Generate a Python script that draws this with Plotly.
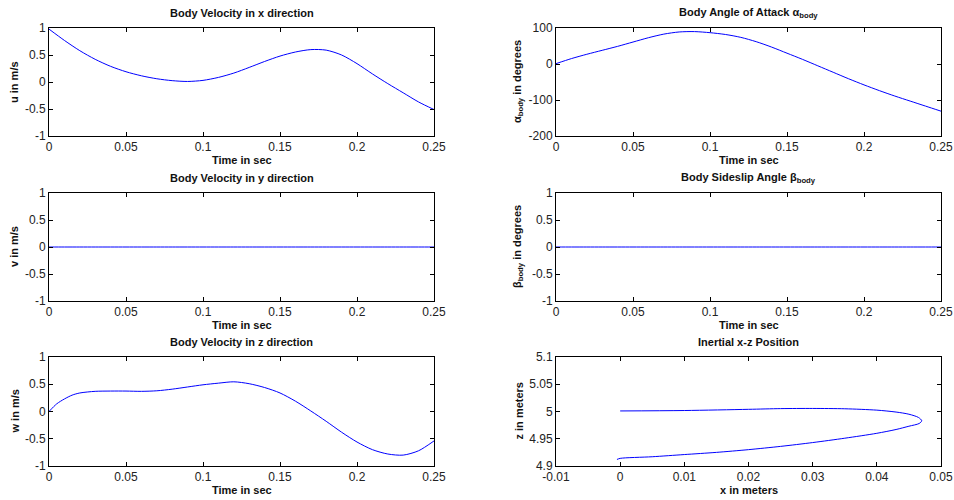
import plotly.graph_objects as go

# ---------------- data ----------------
t = [0.00, 0.01, 0.02, 0.03, 0.04, 0.05, 0.06, 0.07, 0.08, 0.09, 0.10, 0.11, 0.12,
     0.13, 0.14, 0.15, 0.16, 0.17, 0.18, 0.19, 0.20, 0.21, 0.22, 0.23, 0.24, 0.25]

u = [0.98, 0.77, 0.58, 0.42, 0.29, 0.19, 0.115, 0.06, 0.025, 0.01, 0.03, 0.085, 0.165,
     0.27, 0.38, 0.48, 0.555, 0.60, 0.59, 0.50, 0.34, 0.15, -0.03, -0.20, -0.37, -0.51]

v = [0.0] * len(t)

t_w = [0.000, 0.005, 0.010, 0.015, 0.020, 0.030, 0.040, 0.050, 0.060, 0.070, 0.080,
       0.090, 0.100, 0.110, 0.120, 0.130, 0.140, 0.150, 0.160, 0.170, 0.180, 0.190,
       0.200, 0.210, 0.220, 0.230, 0.240, 0.250]
w = [0.00, 0.14, 0.23, 0.30, 0.34, 0.37, 0.375, 0.375, 0.37, 0.38, 0.41,
     0.45, 0.49, 0.52, 0.545, 0.51, 0.44, 0.34, 0.19, 0.01, -0.18, -0.38,
     -0.56, -0.70, -0.78, -0.80, -0.72, -0.54]

alpha = [1, 15, 27, 38, 49, 61, 73, 83, 89, 90, 87, 82, 74,
         62, 47, 30, 13, -5, -23, -41, -58, -74, -89, -103, -117, -131]

beta = [0.0] * len(t)

x_pos = [0.0, 0.01, 0.02, 0.025, 0.03, 0.035, 0.04, 0.043, 0.045, 0.0465, 0.047,
         0.0466, 0.045, 0.043, 0.04, 0.035, 0.03, 0.025, 0.02, 0.015, 0.01, 0.005,
         0.0, -0.0005]
z_pos = [5.001, 5.0018, 5.004, 5.0053, 5.0056, 5.005, 5.0025, 4.999, 4.995, 4.989, 4.983,
         4.978, 4.973, 4.967, 4.960, 4.951, 4.943, 4.936, 4.930, 4.925, 4.921, 4.917,
         4.914, 4.912]

time_ticks = [0, 0.05, 0.1, 0.15, 0.2, 0.25]
time_labels = ["0", "0.05", "0.1", "0.15", "0.2", "0.25"]
vel_ticks = [-1, -0.5, 0, 0.5, 1]
vel_labels = ["-1", "-0.5", "0", "0.5", "1"]
alpha_ticks = [-200, -100, 0, 100]
alpha_labels = ["-200", "-100", "0", "100"]
xpos_ticks = [-0.01, 0, 0.01, 0.02, 0.03, 0.04, 0.05]
xpos_labels = ["-0.01", "0", "0.01", "0.02", "0.03", "0.04", "0.05"]
zpos_ticks = [4.9, 4.95, 5.0, 5.05, 5.1]
zpos_labels = ["4.9", "4.95", "5", "5.05", "5.1"]

titles = ["Body Velocity in x direction", "Body Angle of Attack α<sub>body</sub>",
          "Body Velocity in y direction", "Body Sideslip Angle β<sub>body</sub>",
          "Body Velocity in z direction", "Inertial x-z Position"]
ylabels = ["u in m/s", "α<sub>body</sub> in degrees",
           "v in m/s", "β<sub>body</sub> in degrees",
           "w in m/s", "z in meters"]
xlabels = ["Time in sec"] * 5 + ["x in meters"]

# ---------------- layout geometry ----------------
W, H = 954, 500
col_px = [(49, 434), (556, 941)]
row_px = [(28, 136), (193, 301), (357, 466)]

FONT = "Liberation Sans, Arial, Helvetica, sans-serif"
LINE = "#0000ff"

fig = go.Figure()

series = [
    (t, u), (t, alpha),
    (t, v), (t, beta),
    (t_w, w), (x_pos, z_pos),
]

for i, (xs, ys) in enumerate(series):
    n = i + 1
    fig.add_trace(go.Scatter(
        x=xs, y=ys, mode="lines",
        line=dict(color=LINE, width=1, shape="spline", smoothing=0.8),
        xaxis="x" if n == 1 else f"x{n}", yaxis="y" if n == 1 else f"y{n}",
        showlegend=False, hoverinfo="skip"))

axis_common = dict(
    showline=True, linecolor="black", linewidth=1, mirror="ticks",
    ticks="inside", ticklen=4, tickwidth=1, tickcolor="black",
    showgrid=False, zeroline=False, automargin=False,
    tickfont=dict(family=FONT, size=12, color="#222"),
)

xranges = [(0, 0.25)] * 5 + [(-0.01, 0.05)]
yranges = [(-1, 1), (-200, 100), (-1, 1), (-1, 1), (-1, 1), (4.9, 5.1)]
xt = [(time_ticks, time_labels)] * 5 + [(xpos_ticks, xpos_labels)]
yt = [(vel_ticks, vel_labels), (alpha_ticks, alpha_labels),
      (vel_ticks, vel_labels), (vel_ticks, vel_labels),
      (vel_ticks, vel_labels), (zpos_ticks, zpos_labels)]

layout = dict(
    template="none",
    width=W, height=H, margin=dict(l=0, r=0, t=0, b=0, pad=0),
    paper_bgcolor="white", plot_bgcolor="white", showlegend=False,
)

annotations = []
for i in range(6):
    r, c = divmod(i, 2)
    n = i + 1
    x0, x1 = col_px[c]
    y0, y1 = row_px[r]
    xname = "xaxis" if n == 1 else f"xaxis{n}"
    yname = "yaxis" if n == 1 else f"yaxis{n}"
    layout[xname] = dict(
        axis_common, domain=[x0 / W, x1 / W], range=list(xranges[i]),
        tickmode="array", tickvals=xt[i][0], ticktext=xt[i][1],
        ticklabelstandoff=0,
        anchor="y" if n == 1 else f"y{n}")
    layout[yname] = dict(
        axis_common, domain=[1 - y1 / H, 1 - y0 / H], range=list(yranges[i]),
        tickmode="array", tickvals=yt[i][0], ticktext=yt[i][1],
        anchor="x" if n == 1 else f"x{n}")
    cx = (x0 + x1) / 2
    # title
    annotations.append(dict(
        text=f"<b>{titles[i]}</b>", x=cx / W, y=1 - (y0 - 15) / H,
        xref="paper", yref="paper", showarrow=False,
        xanchor="center", yanchor="middle",
        font=dict(family=FONT, size=11, color="#111")))
    # x label
    annotations.append(dict(
        text=f"<b>{xlabels[i]}</b>", x=cx / W, y=1 - (y1 + 24) / H,
        xref="paper", yref="paper", showarrow=False,
        xanchor="center", yanchor="middle",
        font=dict(family=FONT, size=11, color="#111")))
    # y label
    annotations.append(dict(
        text=f"<b>{ylabels[i]}</b>", x=(x0 - 35 if c == 0 else x0 - 38) / W,
        y=1 - ((y0 + y1) / 2) / H,
        xref="paper", yref="paper", showarrow=False, textangle=-90,
        xanchor="center", yanchor="middle",
        font=dict(family=FONT, size=11, color="#111")))

layout["annotations"] = annotations
fig.update_layout(**layout)

fig.write_html("out.html")
